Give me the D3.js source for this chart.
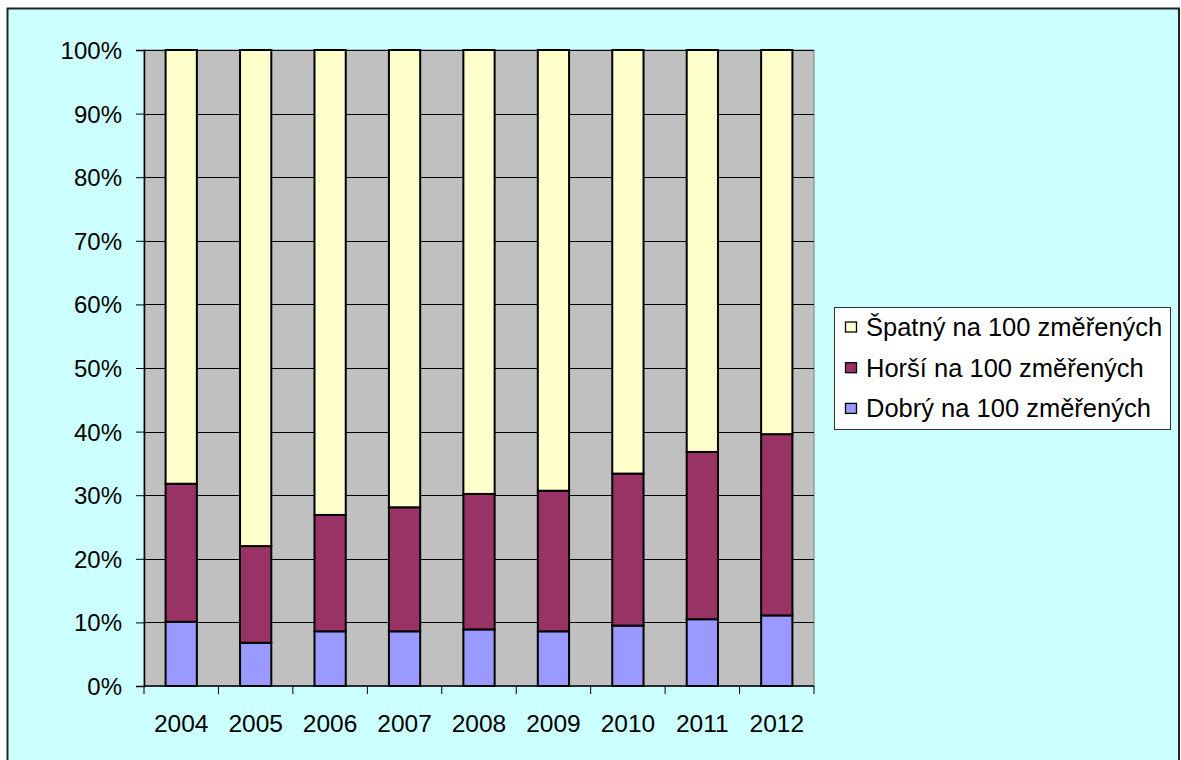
<!DOCTYPE html>
<html>
<head>
<meta charset="utf-8">
<script src="https://cdn.jsdelivr.net/npm/d3@7/dist/d3.min.js"></script>
<style>
  html, body { margin: 0; padding: 0; background: #ffffff; }
  svg { display: block; }
  text { font-family: "Liberation Sans", Arial, sans-serif; fill: #000; }
</style>
</head>
<body>
<svg id="chart" width="1181" height="760"></svg>
<script>
// Yearly shares (percent) of measurements in each condition class
const years = ["2004", "2005", "2006", "2007", "2008", "2009", "2010", "2011", "2012"];
const dobry  = [10.1, 6.8, 8.6, 8.6, 8.9, 8.6, 9.5, 10.5, 11.1];
const horsi  = [21.7, 15.2, 18.3, 19.5, 21.3, 22.1, 23.9, 26.3, 28.5];
const spatny = [68.2, 78.0, 73.1, 71.9, 69.8, 69.3, 66.6, 63.2, 60.4];

const seriesNames = ["Dobrý na 100 změřených", "Horší na 100 změřených", "Špatný na 100 změřených"];
const seriesKeys = ["dobry", "horsi", "spatny"];
const seriesColors = ["#9999FF", "#993366", "#FFFFCC"];
const yTicks = [0, 0.1, 0.2, 0.3, 0.4, 0.5, 0.6, 0.7, 0.8, 0.9, 1.0];

const rows = years.map((y, i) => ({ year: y, dobry: dobry[i], horsi: horsi[i], spatny: spatny[i] }));

const svg = d3.select("#chart");

// Outer frame
svg.append("rect").attr("x", 7.5).attr("y", 8.5).attr("width", 1171.5).attr("height", 760)
  .attr("fill", "#CCFFFF").attr("stroke", "#222").attr("stroke-width", 2);

const plot = { left: 144, top: 50, right: 814, bottom: 686 };

const x = d3.scaleBand().domain(years).range([plot.left, plot.right]).paddingInner(0).paddingOuter(0);
const y = d3.scaleLinear().domain([0, 1]).range([plot.bottom, plot.top]);

const stack = d3.stack().keys(seriesKeys).offset(d3.stackOffsetExpand);
const stacked = stack(rows);

// Plot background
svg.append("rect").attr("x", plot.left).attr("y", plot.top)
  .attr("width", plot.right - plot.left).attr("height", plot.bottom - plot.top)
  .attr("fill", "#C0C0C0").attr("stroke", "#808080").attr("stroke-width", 1);

// Horizontal gridlines
svg.append("g").selectAll("line").data(yTicks.slice(1)).join("line")
  .attr("x1", plot.left).attr("x2", plot.right)
  .attr("y1", d => Math.round(y(d)) + 0.5).attr("y2", d => Math.round(y(d)) + 0.5)
  .attr("stroke", "#000").attr("stroke-width", 1);

// Stacked bars
const barFrac = 0.42;
const bw = x.bandwidth() * barFrac;
svg.append("g").selectAll("g").data(stacked).join("g")
  .attr("fill", (d, i) => seriesColors[i])
  .selectAll("rect").data(d => d).join("rect")
  .attr("x", d => x(d.data.year) + (x.bandwidth() - bw) / 2)
  .attr("width", bw)
  .attr("y", d => y(d[1]))
  .attr("height", d => y(d[0]) - y(d[1]))
  .attr("stroke", "#000").attr("stroke-width", 2);

// Y axis
const yAxis = d3.axisLeft(y).tickValues(yTicks).tickFormat(d3.format(".0%")).tickSize(8).tickPadding(14);
const gy = svg.append("g").attr("transform", `translate(${plot.left},0)`).call(yAxis);
gy.select(".domain").attr("stroke", "#000").attr("stroke-width", 1.5);
gy.selectAll(".tick line").attr("stroke", "#000");
gy.selectAll(".tick text").style("font-size", "24px").attr("dy", "0.35em");

// X axis: ticks at category boundaries, labels centered in each band
const gx = svg.append("g").attr("transform", `translate(0,${plot.bottom})`);
gx.append("line").attr("x1", plot.left).attr("x2", plot.right).attr("y1", 0).attr("y2", 0)
  .attr("stroke", "#000").attr("stroke-width", 1.5);
const boundaries = years.map(d => x(d)).concat([plot.right]);
gx.selectAll("line.tk").data(boundaries).join("line").attr("class", "tk")
  .attr("x1", d => d).attr("x2", d => d).attr("y1", 0).attr("y2", 8)
  .attr("stroke", "#000");
gx.selectAll("text").data(years).join("text")
  .attr("x", d => x(d) + x.bandwidth() / 2).attr("y", 46)
  .attr("text-anchor", "middle").style("font-size", "24.5px")
  .text(d => d);

// Legend
const lg = svg.append("g");
lg.append("rect").attr("x", 834.5).attr("y", 307.5).attr("width", 336).attr("height", 122)
  .attr("fill", "#ffffff").attr("stroke", "#333").attr("stroke-width", 1);
const legendOrder = [2, 1, 0];
legendOrder.forEach((si, r) => {
  const cy = 327 + r * 40.7;
  lg.append("rect").attr("x", 845.5).attr("y", cy - 5).attr("width", 11).attr("height", 10)
    .attr("fill", seriesColors[si]).attr("stroke", "#000").attr("stroke-width", 1.3);
  lg.append("text").attr("x", 866).attr("y", cy).attr("dy", "0.35em")
    .style("font-size", "25.5px").text(seriesNames[si]);
});
</script>
</body>
</html>
